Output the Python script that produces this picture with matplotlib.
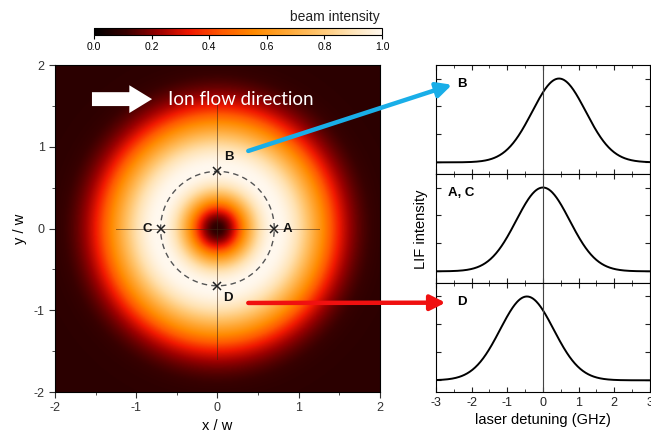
import numpy as np
import matplotlib
matplotlib.use("Agg")
from matplotlib import pyplot as plt
from matplotlib.colors import LinearSegmentedColormap
from matplotlib.ticker import MultipleLocator

plt.rcParams["font.family"] = ["Liberation Sans", "DejaVu Sans"]
plt.rcParams["axes.unicode_minus"] = False

# donut beam profile parameters (in units of w)
core_radius = 0.42      # width of the dark core
edge_radius = 1.38      # where the outer flank falls off
edge_order = 4.2        # steepness of the outer flank
floor_level = 0.08

# probe positions on the ring
probe_names = ["A", "B", "C", "D"]
probe_x = [0.7, 0.0, -0.7, 0.0]
probe_y = [0.0, 0.7, 0.0, -0.7]
ring_radius = 0.7

# LIF spectra seen at the probe positions (GHz)
panel_labels = ["B", "A, C", "D"]
line_centers = [0.45, 0.0, -0.45]
line_width = 0.75
detuning_ticks = [-3, -2, -1, 0, 1, 2, 3]
cbar_ticks = [0.0, 0.2, 0.4, 0.6, 0.8, 1.0]

heat_colors = ["#000000", "#380000", "#9a0000", "#f01800", "#ff5a00",
               "#ff8a00", "#ffa632", "#ffc46c", "#ffe2b2", "#fff8ee"]
heat_cmap = LinearSegmentedColormap.from_list("beam", heat_colors)


def beam_intensity(x, y):
    r = np.hypot(x, y)
    core = 1 - np.exp(-(r / core_radius) ** 2)
    flank = np.exp(-(r / edge_radius) ** edge_order)
    inten = floor_level + (1 - floor_level) * core * flank
    return inten / inten.max()


fig = plt.figure(figsize=(6.51, 4.40), dpi=100)

# ---- beam map ----
ax = fig.add_axes([0.0845, 0.109, 0.499, 0.743])
grid = np.linspace(-2, 2, 500)
gx, gy = np.meshgrid(grid, grid)
img = ax.imshow(beam_intensity(gx, gy), extent=[-2, 2, -2, 2], origin="lower",
                cmap=heat_cmap, vmin=0, vmax=1, interpolation="bilinear",
                aspect="auto")
ax.set_xlim(-2, 2)
ax.set_ylim(-2, 2)
ax.xaxis.set_major_locator(MultipleLocator(1))
ax.yaxis.set_major_locator(MultipleLocator(1))
ax.xaxis.set_minor_locator(MultipleLocator(0.5))
ax.yaxis.set_minor_locator(MultipleLocator(0.5))
ax.tick_params(which="both", direction="out", labelsize=9, colors="#333333")
ax.tick_params(which="major", length=4)
ax.tick_params(which="minor", length=2.5)
ax.set_xlabel("x / w", fontsize=10.5, labelpad=3)
ax.set_ylabel("y / w", fontsize=10.5, labelpad=5)

# crosshair, ring and probe points
ax.plot([-1.25, 1.25], [0, 0], color="#3a2412", lw=0.7, alpha=0.55)
ax.plot([0, 0], [-1.6, 1.6], color="#3a2412", lw=0.7, alpha=0.55)
theta = np.linspace(0, 2 * np.pi, 300)
ax.plot(ring_radius * np.cos(theta), ring_radius * np.sin(theta),
        color="#555555", lw=1.0, dashes=(4, 3))
ax.plot(probe_x, probe_y, "x", color="#222222", ms=6, mew=1.1)
label_offsets = {"A": (0.16, 0.0), "B": (0.14, 0.17), "C": (-0.17, 0.0), "D": (0.13, -0.15)}
for name, px, py in zip(probe_names, probe_x, probe_y):
    dx, dy = label_offsets[name]
    ax.text(px + dx, py + dy, name, fontsize=9.5, fontweight="bold",
            ha="center", va="center", color="#111111")

# flow direction
ax.arrow(-1.545, 1.584, 0.74, 0, width=0.17, head_width=0.34, head_length=0.28,
         length_includes_head=True, fc="white", ec="none")
ax.text(-0.61, 1.584, "Ion flow direction", color="white", fontsize=13.5,
        family=["Lato", "DejaVu Sans"], ha="left", va="center")

# ---- colorbar ----
cax = fig.add_axes([0.1444, 0.921, 0.4424, 0.016])
cb = fig.colorbar(img, cax=cax, orientation="horizontal", ticks=cbar_ticks)
cb.ax.tick_params(labelsize=7.5, length=3, direction="out", pad=2)
cb.ax.set_xticklabels(["%.1f" % t for t in cbar_ticks])
cb.outline.set_linewidth(0.8)
fig.text(0.583, 0.962, "beam intensity", fontsize=10, ha="right", va="center",
         color="#222222")

# ---- LIF spectra ----
det = np.linspace(-3, 3, 400)
panel_h = 0.743 / 3
spec_axes = []
for i, (lab, c0) in enumerate(zip(panel_labels, line_centers)):
    bottom = 0.109 + (2 - i) * panel_h
    sax = fig.add_axes([0.6697, bottom, 0.3287, panel_h])
    sax.plot(det, np.exp(-0.5 * ((det - c0) / line_width) ** 2), color="black", lw=1.4)
    sax.axvline(0, color="#444444", lw=0.8)
    sax.set_xlim(-3, 3)
    sax.set_ylim(-0.14, 1.16)
    sax.set_xticks(detuning_ticks)
    sax.xaxis.set_minor_locator(MultipleLocator(0.5))
    sax.set_yticks([0, 1 / 3, 2 / 3, 1])
    sax.set_yticklabels([])
    sax.tick_params(which="both", direction="in", top=True, right=True,
                    labelsize=9, colors="#222222")
    sax.tick_params(which="major", length=3.5)
    sax.tick_params(which="minor", length=2.5)
    if i < 2:
        sax.set_xticklabels([])
    else:
        sax.set_xlabel("laser detuning (GHz)", fontsize=10.5, labelpad=3)
    lx = 0.056 if lab == "A, C" else 0.12
    sax.text(lx, 0.83, lab, transform=sax.transAxes, fontsize=9.5,
             fontweight="bold", ha="left" if lab == "A, C" else "center", va="center")
    spec_axes.append(sax)

fig.text(0.647, 0.48, "LIF intensity", rotation=90, fontsize=10.5,
         ha="center", va="center")

# arrows from the probe points to their spectra, drawn by the spectrum
# axes so they sit on top of both panels
arrow_style = "-|>,head_length=0.9,head_width=0.45"
spec_axes[0].annotate("", xy=(0.075, 0.82), xycoords=spec_axes[0].transAxes,
                      xytext=(0.38, 0.95), textcoords=ax.transData,
                      arrowprops=dict(arrowstyle=arrow_style, color="#19aee8",
                                      lw=3.2, shrinkA=0, shrinkB=0),
                      annotation_clip=False)
spec_axes[2].annotate("", xy=(0.045, 0.82), xycoords=spec_axes[2].transAxes,
                      xytext=(0.38, -0.91), textcoords=ax.transData,
                      arrowprops=dict(arrowstyle=arrow_style, color="#f01010",
                                      lw=3.2, shrinkA=0, shrinkB=0),
                      annotation_clip=False)

fig.savefig("out.png", dpi=100)
